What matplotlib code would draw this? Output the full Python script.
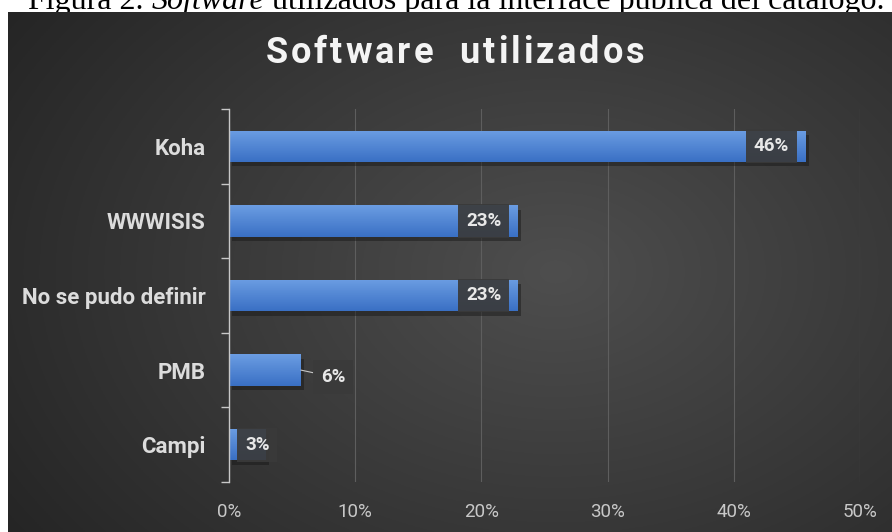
import numpy as np
import matplotlib
matplotlib.use("Agg")
import matplotlib.pyplot as plt

categories = ["Koha", "WWWISIS", "No se pudo definir", "PMB", "Campi"]
values = [45.7, 22.9, 22.9, 5.7, 2.9]
value_labels = ["46%", "23%", "23%", "6%", "3%"]
x_ticks = [0, 10, 20, 30, 40, 50]
x_tick_labels = ["0%", "10%", "20%", "30%", "40%", "50%"]
title = "Software  utilizados"
caption_parts = [("Figura 2. ", "normal"), ("Software", "italic"),
                 (" utilizados para la interface pública del catálogo.", "normal")]

W, H = 892, 532
fig = plt.figure(figsize=(W / 100, H / 100), dpi=100)
fig.patch.set_facecolor("white")
renderer = fig.canvas.get_renderer()

# caption above the dark panel (top half is cut off by the image edge)
x_px = 28
for txt, style in caption_parts:
    t = fig.text(x_px / W, 1 - 8.5 / H, txt, family="Liberation Serif", style=style,
                 fontsize=23, color="black", va="baseline", ha="left", zorder=-1)
    x_px += t.get_window_extent(renderer).width

# dark panel with radial gradient
bg = fig.add_axes([8 / W, 0, (W - 8) / W, (H - 12) / H])
gx, gy = np.meshgrid(np.linspace(0, 1, 400), np.linspace(0, 1, 300))
r = np.sqrt(((gx - 0.62) / 0.75) ** 2 + ((gy - 0.5) / 0.9) ** 2)
r = np.clip(r, 0, 1)
inner = np.array([0x4e, 0x4e, 0x4e]) / 255
outer = np.array([0x25, 0x25, 0x25]) / 255
img = inner[None, None, :] * (1 - r[..., None]) + outer[None, None, :] * r[..., None]
bg.imshow(img, extent=[0, 1, 0, 1], aspect="auto")
bg.axis("off")

# chart axes
ax = fig.add_axes([229 / W, 50 / H, 631 / W, 373 / H])
ax.patch.set_alpha(0)
y = np.arange(len(categories))
h = 0.42

# shadows
ax.barh(y + 0.06, values, height=h, left=0.25, color="#151515", alpha=0.45, zorder=2)
bars = ax.barh(y, values, height=h, color="#4a86d6", zorder=3)

# vertical gradient on each bar
grad = np.linspace(0, 1, 50)[:, None]
top = np.array([0x6b, 0x9d, 0xe3]) / 255
bot = np.array([0x3a, 0x70, 0xc4]) / 255
gimg = top[None, None, :] * (1 - grad[..., None]) + bot[None, None, :] * grad[..., None]
for b in bars:
    x0, y0 = b.get_x(), b.get_y()
    im = ax.imshow(np.repeat(gimg, 2, axis=1), extent=[x0, x0 + b.get_width(), y0 + h, y0],
                   aspect="auto", zorder=3.5)
    im.set_clip_path(b)

ax.set_xlim(0, 50)
ax.set_ylim(len(categories) - 0.5, -0.5)

# grid and spines
ax.set_xticks(x_ticks)
ax.set_xticklabels(x_tick_labels, family="Roboto", fontsize=13.5, color="#c8c8c8")
ax.xaxis.grid(True, color="#5e5e5e", lw=0.8, zorder=1)
ax.tick_params(axis="x", length=0, pad=15)
for s in ["top", "right", "bottom"]:
    ax.spines[s].set_visible(False)
ax.spines["left"].set_color("#c8c8c8")
ax.spines["left"].set_linewidth(1.0)
ax.spines["left"].set_zorder(5)

ax.set_yticks(y)
ax.set_yticklabels(categories, family="Roboto", fontsize=16, weight="bold", color="#dcdcdc")
ax.tick_params(axis="y", which="major", length=0, pad=17)
ax.set_yticks(np.arange(len(categories) + 1) - 0.5, minor=True)
ax.tick_params(axis="y", which="minor", length=6, color="#c8c8c8", width=1.0, direction="out")

# data labels
box = dict(boxstyle="square,pad=0.42", facecolor="#3a3a3a", edgecolor="none", alpha=0.92)
lab = dict(family="Roboto", fontsize=13.5, weight="bold", color="#e8e8e8", va="center",
           textcoords="offset points", bbox=box, zorder=6)
ax.annotate(value_labels[0], xy=(values[0], y[0]), xytext=(-12, 0), ha="right", **lab)
ax.annotate(value_labels[1], xy=(values[1], y[1]), xytext=(-12, 0), ha="right", **lab)
ax.annotate(value_labels[2], xy=(values[2], y[2]), xytext=(-12, 0), ha="right", **lab)
ax.annotate(value_labels[3], xy=(values[3], y[3]), xytext=(14.5, -5), ha="left",
            arrowprops=dict(arrowstyle="-", color="#c8c8c8", lw=0.8, shrinkA=0, shrinkB=0), **lab)
ax.annotate(value_labels[4], xy=(0, y[4]), xytext=(11.5, 0), ha="left", **lab)

# title with a little extra letter spacing, drawn char by char
tsize, track = 26, 3.0
widths = []
for ch in title:
    t = fig.text(0, 0, ch if ch != " " else "a", family="Roboto", weight="bold", fontsize=tsize)
    w = t.get_window_extent(renderer).width
    widths.append(w if ch != " " else w * 0.45)
    t.remove()
total = sum(widths) + track * (len(title) - 1)
x_px = 455 - total / 2
for ch, w in zip(title, widths):
    if ch != " ":
        fig.text(x_px / W, 1 - 53 / H, ch, family="Roboto", weight="bold", fontsize=tsize,
                 color="#f4f4f4", ha="left", va="center")
    x_px += w + track

fig.savefig("out.png", dpi=100)
